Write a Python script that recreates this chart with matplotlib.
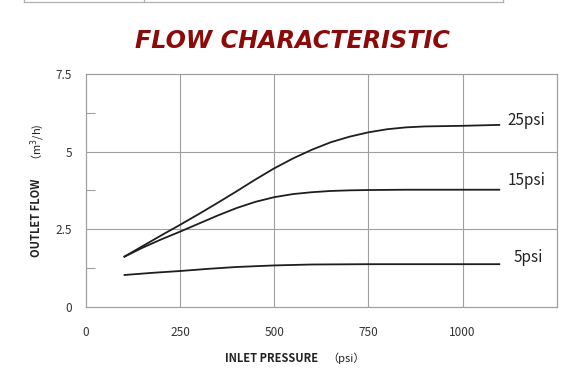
import matplotlib
matplotlib.use("Agg")
import matplotlib.pyplot as plt
from matplotlib.lines import Line2D

plt.rcParams['font.family'] = ['Noto Sans CJK SC', 'DejaVu Sans']

# values
x_25 = [100, 150, 200, 250, 300, 350, 400, 450, 500, 550, 600, 650, 700, 750, 800, 850, 900, 1000, 1100]
y_25 = [1.60, 1.95, 2.30, 2.64, 2.99, 3.35, 3.72, 4.10, 4.46, 4.78, 5.06, 5.30, 5.48, 5.62, 5.72, 5.78, 5.81, 5.83, 5.86]
x_15 = [100, 150, 200, 250, 300, 350, 400, 450, 500, 550, 600, 650, 700, 750, 850, 1100]
y_15 = [1.60, 1.90, 2.17, 2.42, 2.68, 2.94, 3.18, 3.38, 3.53, 3.63, 3.69, 3.73, 3.75, 3.76, 3.77, 3.77]
x_5 = [100, 175, 250, 325, 400, 500, 600, 750, 1000, 1100]
y_5 = [1.02, 1.09, 1.15, 1.22, 1.28, 1.33, 1.36, 1.37, 1.37, 1.37]

series_labels = ['25psi', '15psi', '5psi']
label_pos = [(1120, 6.0), (1120, 4.07), (1135, 1.57)]

x_ticks = [0, 250, 500, 750, 1000]
y_ticks = [0, 2.5, 5, 7.5]
y_ticklabels = ['0', '2.5', '5', '7.5']
y_minor = [1.25, 3.75, 6.25]

grid_col = '#a0a0a0'
line_col = '#1e1e1e'
text_col = '#333333'

fig = plt.figure(figsize=(5.78, 3.85), dpi=100)
ax = fig.add_axes([0.1488, 0.2034, 0.8143, 0.6044])

for xs, ys in [(x_25, y_25), (x_15, y_15), (x_5, y_5)]:
    ax.plot(xs, ys, color=line_col, linewidth=1.3, solid_capstyle='butt')

for lab, (lx, ly) in zip(series_labels, label_pos):
    ax.text(lx, ly, lab, fontsize=11, color='#222222', ha='left', va='center')

ax.set_xlim(0, 1250)
ax.set_ylim(0, 7.5)
ax.set_xticks(x_ticks)
ax.set_yticks(y_ticks)
ax.set_yticklabels(y_ticklabels)
ax.set_yticks(y_minor, minor=True)

for v in x_ticks[1:]:
    ax.axvline(v, color=grid_col, linewidth=0.8, zorder=0)
for v in y_ticks[1:-1]:
    ax.axhline(v, color=grid_col, linewidth=0.8, zorder=0)

ax.tick_params(axis='both', which='major', length=0, labelsize=8.5, labelcolor=text_col)
ax.tick_params(axis='x', which='major', pad=14)
ax.tick_params(axis='y', which='major', pad=10)
ax.tick_params(axis='y', which='minor', direction='in', length=6.5, width=0.8, color=grid_col)

for s in ax.spines.values():
    s.set_color(grid_col)
    s.set_linewidth(0.9)

# title
fig.text(292 / 578, 1 - 41 / 385, 'FLOW CHARACTERISTIC', ha='center', va='center',
         fontsize=17.2, fontweight='bold', style='italic', color='#8b0b0b',
         family=['DejaVu Sans'])

# axis titles
fig.text(318 / 578, 1 - 358 / 385, 'INLET PRESSURE', ha='right', va='center',
         fontsize=8, fontweight='bold', color='#222222')
fig.text(327 / 578, 1 - 358 / 385, '（psi）', ha='left', va='center',
         fontsize=8, color='#222222')
fig.text(36 / 578, 1 - 257 / 385, 'OUTLET FLOW', ha='center', va='bottom',
         rotation=90, fontsize=8, fontweight='bold', color='#222222')
fig.text(38 / 578, 1 - 166 / 385, '（m$^3$/h)', ha='center', va='bottom',
         rotation=90, fontsize=8, color='#222222')

# remains of the table border above the chart
y_top = 1 - 1.5 / 385
fig.add_artist(Line2D([24 / 578, 503 / 578], [y_top, y_top], color='#b0b0b0', linewidth=0.9))
for xv in [24, 144, 503]:
    fig.add_artist(Line2D([xv / 578, xv / 578], [y_top, 1.0], color='#b0b0b0', linewidth=0.9))

fig.savefig('out.png', dpi=100)
